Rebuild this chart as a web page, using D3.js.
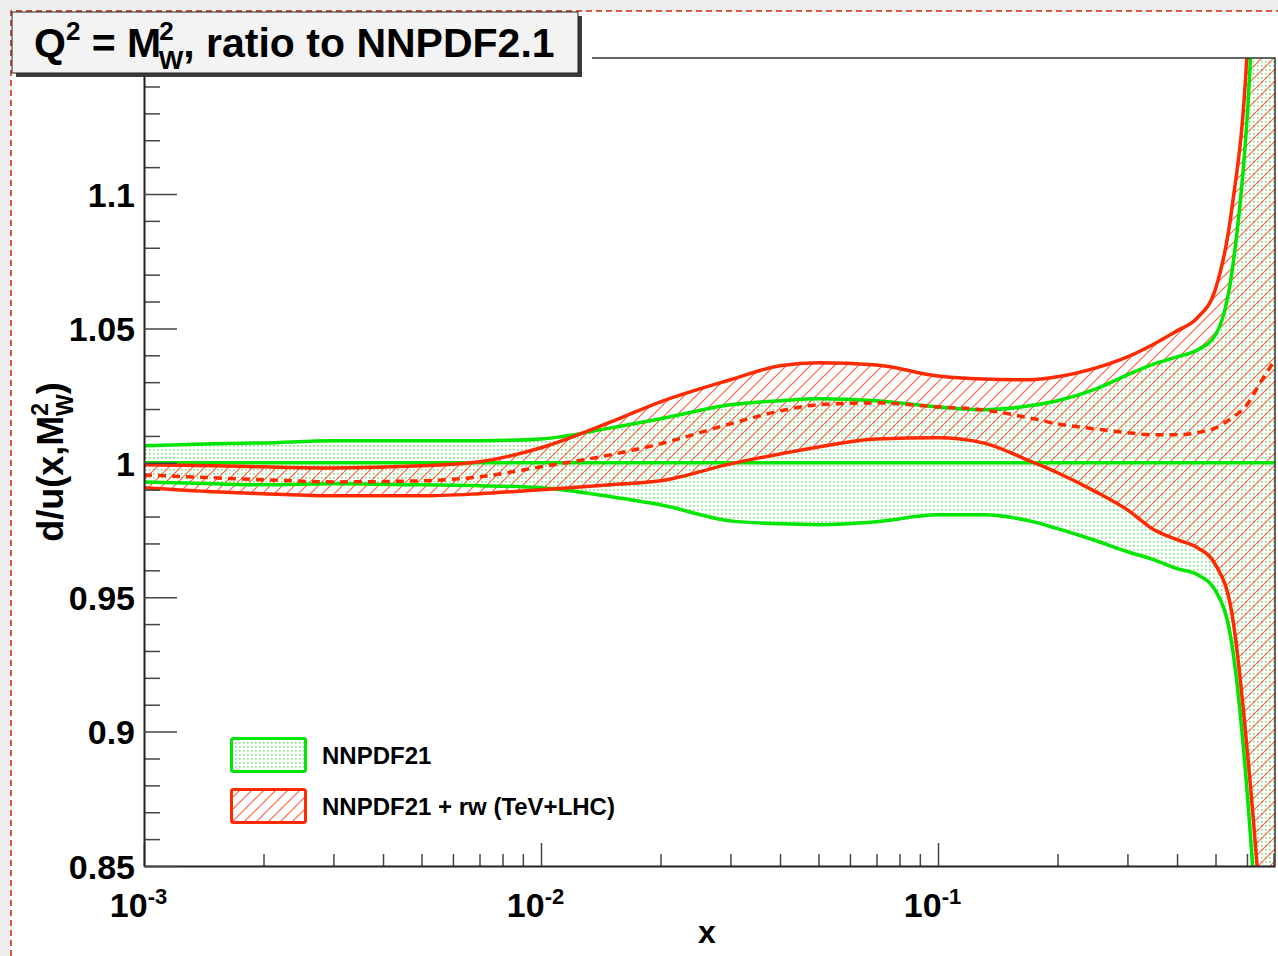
<!DOCTYPE html>
<html>
<head>
<meta charset="utf-8">
<script src="https://cdn.jsdelivr.net/npm/d3@7"></script>
<style>
  body { margin: 0; background: #fff; }
  svg text { font-family: "Liberation Sans", Arial, sans-serif; font-weight: bold; fill: #000; }
</style>
</head>
<body>
<div id="chart"></div>
<script>
// x values of the curves
var xValues = [0.001, 0.0015, 0.002, 0.003, 0.005, 0.007, 0.01, 0.015, 0.02, 0.03, 0.04, 0.05, 0.07,
               0.1, 0.13, 0.17, 0.2, 0.25, 0.3, 0.35, 0.4, 0.45, 0.5, 0.55, 0.6, 0.65, 0.706];

// NNPDF21 (reference, ratio to itself)
var refUpper = [1.0063, 1.0071, 1.0074, 1.0082, 1.0082, 1.0082, 1.0089, 1.0130, 1.0164, 1.0216, 1.0231, 1.0238, 1.0231,
                1.0208, 1.0197, 1.0212, 1.0231, 1.0275, 1.0327, 1.0368, 1.0394, 1.0420, 1.0476, 1.0710, 1.1275, 1.2279, 1.3208];
var refLower = [0.9929, 0.9922, 0.9918, 0.9922, 0.9918, 0.9915, 0.9907, 0.9874, 0.9844, 0.9784, 0.9773, 0.9770, 0.9781,
                0.9807, 0.9807, 0.9784, 0.9755, 0.9710, 0.9669, 0.9639, 0.9606, 0.9584, 0.9524, 0.9323, 0.8784, 0.8004, 0.6885];
var refCentral = [1, 1, 1, 1, 1, 1, 1, 1, 1, 1, 1, 1, 1, 1, 1, 1, 1, 1, 1, 1, 1, 1, 1, 1, 1, 1, 1];

// NNPDF21 + rw (TeV+LHC)
var rwUpper = [0.9993, 0.9989, 0.9985, 0.9981, 0.9989, 1.0004, 1.0056, 1.0152, 1.0227, 1.0309, 1.0361, 1.0372, 1.0364,
               1.0323, 1.0312, 1.0309, 1.0320, 1.0353, 1.0394, 1.0442, 1.0491, 1.0539, 1.0647, 1.0948, 1.1517, 1.2836, 1.3952];
var rwLower = [0.9907, 0.9892, 0.9885, 0.9877, 0.9877, 0.9885, 0.9900, 0.9918, 0.9933, 0.9996, 1.0033, 1.0059, 1.0089,
               1.0093, 1.0074, 1.0007, 0.9963, 0.9892, 0.9825, 0.9751, 0.9714, 0.9684, 0.9621, 0.9439, 0.8941, 0.8301, 0.7260];
var rwCentral = [0.9955, 0.9944, 0.9937, 0.9929, 0.9933, 0.9948, 0.9985, 1.0030, 1.0071, 1.0145, 1.0193, 1.0216, 1.0223,
                 1.0208, 1.0197, 1.0167, 1.0145, 1.0126, 1.0112, 1.0104, 1.0104, 1.0112, 1.0130, 1.0167, 1.0216, 1.0301, 1.0383];

var xMajor = [0.001, 0.01, 0.1];
var yMajor = [0.85, 0.9, 0.95, 1, 1.05, 1.1];
var legendLabels = ["NNPDF21", "NNPDF21 + rw (TeV+LHC)"];

var green = "#00e600", red = "#ff2a00";

var svg = d3.select("#chart").append("svg")
    .attr("width", 1278).attr("height", 956);

// page margins like the screenshot
svg.append("rect").attr("x", 0).attr("y", 0).attr("width", 1278).attr("height", 956).attr("fill", "#fff");
svg.append("rect").attr("x", 0).attr("y", 0).attr("width", 11).attr("height", 956).attr("fill", "#ededed");
svg.append("rect").attr("x", 0).attr("y", 0).attr("width", 1278).attr("height", 11).attr("fill", "#ededed");
svg.append("path").attr("d", "M11,956 V11 H1278")
    .attr("fill", "none").attr("stroke", "#c8260e").attr("stroke-width", 1.5).attr("stroke-dasharray", "6,4");

var defs = svg.append("defs");
var dots = defs.append("pattern").attr("id", "dots").attr("patternUnits", "userSpaceOnUse")
    .attr("width", 4).attr("height", 4);
dots.append("rect").attr("width", 4).attr("height", 4).attr("fill", "#fff");
dots.append("rect").attr("x", 1).attr("y", 1).attr("width", 1.6).attr("height", 1.6).attr("fill", "#7ee57e");

var hatch = defs.append("pattern").attr("id", "hatch").attr("patternUnits", "userSpaceOnUse")
    .attr("width", 12).attr("height", 12);
hatch.append("path").attr("d", "M0,12 L12,0 M-3,3 L3,-3 M9,15 L15,9")
    .attr("stroke", "#ff5a3c").attr("stroke-width", 1.1);

var frameL = 144, frameR = 1275, frameT = 58, frameB = 866;

var x = d3.scaleLog().domain([0.001, 0.706]).range([frameL, frameR]);
var y = d3.scaleLinear().domain([0.85, 1.1506]).range([frameB, frameT]);

defs.append("clipPath").attr("id", "frame").append("rect")
    .attr("x", frameL).attr("y", frameT).attr("width", frameR - frameL).attr("height", frameB - frameT);

var plot = svg.append("g").attr("clip-path", "url(#frame)");

var area = function(lo, hi) {
  return d3.area().curve(d3.curveMonotoneX)
    .x(function(d, i) { return x(xValues[i]); })
    .y0(function(d, i) { return y(lo[i]); })
    .y1(function(d, i) { return y(hi[i]); });
};
var line = function(v) {
  return d3.line().curve(d3.curveMonotoneX)
    .x(function(d, i) { return x(xValues[i]); })
    .y(function(d, i) { return y(v[i]); });
};

plot.append("path").datum(xValues).attr("d", area(refLower, refUpper)).attr("fill", "url(#dots)");
plot.append("path").datum(xValues).attr("d", area(rwLower, rwUpper)).attr("fill", "url(#hatch)");

[refUpper, refLower, refCentral].forEach(function(v) {
  plot.append("path").datum(xValues).attr("d", line(v))
      .attr("fill", "none").attr("stroke", green).attr("stroke-width", 3.5);
});
[rwUpper, rwLower].forEach(function(v) {
  plot.append("path").datum(xValues).attr("d", line(v))
      .attr("fill", "none").attr("stroke", red).attr("stroke-width", 3.5);
});
plot.append("path").datum(xValues).attr("d", line(rwCentral))
    .attr("fill", "none").attr("stroke", red).attr("stroke-width", 3.5).attr("stroke-dasharray", "8,6");

// frame top / right
svg.append("path").attr("d", "M592," + frameT + " H" + frameR + " V" + frameB)
    .attr("fill", "none").attr("stroke", "#333").attr("stroke-width", 1.5);

// x axis
var xMinor = x.ticks().filter(function(t) { return xMajor.indexOf(t) < 0; });
svg.append("g").attr("transform", "translate(0," + frameB + ")")
    .call(d3.axisBottom(x).tickValues(xMinor).tickSize(-12).tickFormat(""))
    .call(function(g) { g.select(".domain").remove(); g.selectAll("line").attr("stroke", "#444").attr("stroke-width", 1.5); });
var xg = svg.append("g").attr("transform", "translate(0," + frameB + ")")
    .call(d3.axisBottom(x).tickValues(xMajor).tickSizeInner(-23).tickSizeOuter(0).tickPadding(27));
xg.select(".domain").attr("stroke", "#222").attr("stroke-width", 2);
xg.selectAll("line").attr("stroke", "#444").attr("stroke-width", 1.5);
xg.selectAll(".tick text").each(function(d) {
  var t = d3.select(this).text("").attr("font-size", 34).attr("dy", "0.71em").attr("dx", -6).attr("text-anchor", "middle");
  t.append("tspan").text("10");
  t.append("tspan").attr("font-size", 22).attr("dy", -13).text(Math.round(Math.log10(d)));
});

// y axis
var yMinor = y.ticks(30).filter(function(t) { return !yMajor.some(function(m) { return Math.abs(m - t) < 1e-9; }); });
svg.append("g").attr("transform", "translate(" + frameL + ",0)")
    .call(d3.axisLeft(y).tickValues(yMinor).tickSize(-16).tickFormat(""))
    .call(function(g) { g.select(".domain").remove(); g.selectAll("line").attr("stroke", "#444").attr("stroke-width", 1.5); });
var yg = svg.append("g").attr("transform", "translate(" + frameL + ",0)")
    .call(d3.axisLeft(y).tickValues(yMajor).tickSizeInner(-33).tickSizeOuter(0).tickPadding(9)
      .tickFormat(function(d) { return d3.format("")(+d.toFixed(2)); }));
yg.select(".domain").attr("stroke", "#222").attr("stroke-width", 2);
yg.selectAll("line").attr("stroke", "#444").attr("stroke-width", 1.5);
yg.selectAll(".tick text").attr("font-size", 34).attr("dy", "0.36em");

// axis titles
svg.append("text").attr("x", 707).attr("y", 943).attr("text-anchor", "middle").attr("font-size", 32).text("x");

var yt = svg.append("text").attr("transform", "translate(63,462) rotate(-90)")
    .attr("text-anchor", "middle").attr("font-size", 36);
yt.append("tspan").text("d/u(x,M");
yt.append("tspan").attr("font-size", 23).attr("dy", -15).text("2");
yt.append("tspan").attr("font-size", 23).attr("dx", -13).attr("dy", 25).text("W");
yt.append("tspan").attr("dy", -10).text(")");

// title box
svg.append("rect").attr("x", 16).attr("y", 16).attr("width", 566).attr("height", 61).attr("fill", "#3a3a3a");
svg.append("rect").attr("x", 12).attr("y", 12).attr("width", 566).attr("height", 61)
    .attr("fill", "#f3f3f3").attr("stroke", "#222").attr("stroke-width", 1);
var tt = svg.append("text").attr("x", 34).attr("y", 57).attr("font-size", 41);
tt.append("tspan").text("Q");
tt.append("tspan").attr("font-size", 26).attr("dy", -17).text("2");
tt.append("tspan").attr("dy", 17).text(" = M");
tt.append("tspan").attr("font-size", 26).attr("dy", -17).attr("dx", -2).text("2");
tt.append("tspan").attr("font-size", 26).attr("dx", -15).attr("dy", 29).text("W");
tt.append("tspan").attr("dy", -12).text(", ratio to NNPDF2.1");

// legend
var legend = svg.append("g").attr("transform", "translate(230,737)");
var entries = legend.selectAll("g").data(legendLabels).enter().append("g")
    .attr("transform", function(d, i) { return "translate(0," + i * 51 + ")"; });
entries.append("rect").attr("x", 1.5).attr("y", 1.5).attr("width", 74).attr("height", 33).attr("rx", 2)
    .attr("fill", function(d, i) { return i === 0 ? "url(#dots)" : "url(#hatch)"; })
    .attr("stroke", function(d, i) { return i === 0 ? green : red; }).attr("stroke-width", 3);
entries.append("text").attr("x", 92).attr("y", 18).attr("dy", "0.36em").attr("font-size", 24)
    .text(function(d) { return d; });
</script>
</body>
</html>
